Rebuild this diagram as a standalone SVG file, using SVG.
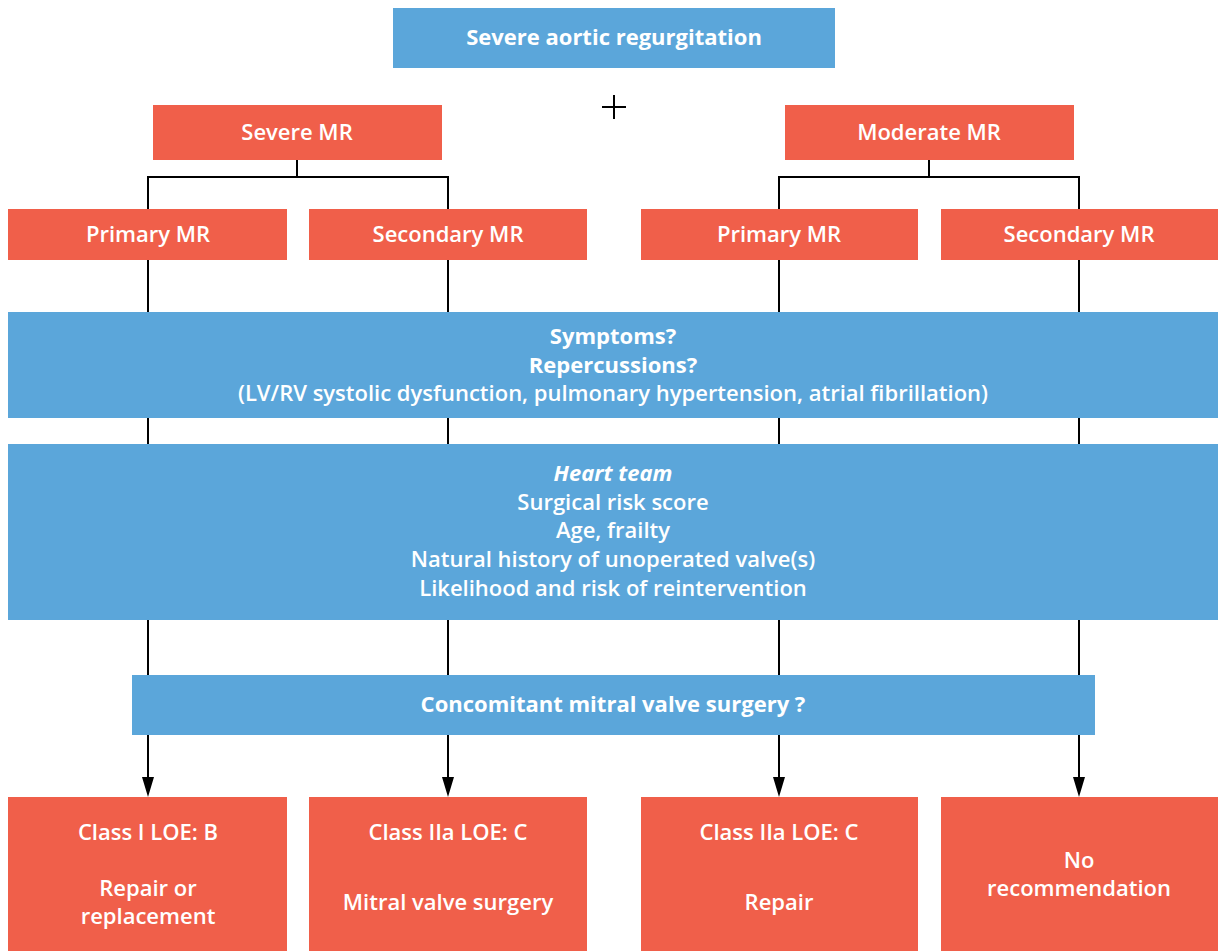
<svg xmlns="http://www.w3.org/2000/svg" width="1218" height="951" viewBox="0 0 1218 951">
<defs>
<style>
.blue{fill:#5BA6DA}
.red{fill:#F05F4A}
.t{font-family:"Open Sans","Liberation Sans",Arial,sans-serif;font-size:22px;font-weight:600;fill:#ffffff;text-anchor:middle}
.b{font-weight:bold}
.ln{stroke:#000;stroke-width:2;fill:none}
</style>
</defs>
<rect width="1218" height="951" fill="#fff"/>
<g id="connectors">
<path class="ln" d="M297,160 V177 M148,177 H448 M148,176 V209 M448,176 V209"/>
<path class="ln" d="M929,160 V177 M779,177 H1079 M779,176 V209 M1079,176 V209"/>
<path class="ln" d="M148,260 V312 M448,260 V312 M779,260 V312 M1079,260 V312"/>
<path class="ln" d="M148,418 V444 M448,418 V444 M779,418 V444 M1079,418 V444"/>
<path class="ln" d="M148,620 V675 M448,620 V675 M779,620 V675 M1079,620 V675"/>
<path class="ln" d="M148,735 V777 M448,735 V777 M779,735 V777 M1079,735 V777"/>
<path d="M142,777 L154,777 L148,797 Z M442,777 L454,777 L448,797 Z M773,777 L785,777 L779,797 Z M1073,777 L1085,777 L1079,797 Z" fill="#000"/>
<path class="ln" d="M602,107 H626 M614,95 V119"/>
</g>
<g id="aortic">
<rect class="blue" x="393" y="8" width="442" height="60"/>
<text class="t b" x="614" y="45">Severe aortic regurgitation</text>
</g>
<g id="severe-mr">
<rect class="red" x="153" y="105" width="289" height="55"/>
<text class="t" x="297" y="140">Severe MR</text>
</g>
<g id="moderate-mr">
<rect class="red" x="785" y="105" width="289" height="55"/>
<text class="t" x="929" y="140">Moderate MR</text>
</g>
<g id="primary-1">
<rect class="red" x="8" y="209" width="279" height="51"/>
<text class="t" x="148" y="242">Primary MR</text>
</g>
<g id="secondary-1">
<rect class="red" x="309" y="209" width="278" height="51"/>
<text class="t" x="448" y="242">Secondary MR</text>
</g>
<g id="primary-2">
<rect class="red" x="641" y="209" width="277" height="51"/>
<text class="t" x="779" y="242">Primary MR</text>
</g>
<g id="secondary-2">
<rect class="red" x="941" y="209" width="277" height="51"/>
<text class="t" x="1079" y="242">Secondary MR</text>
</g>
<g id="symptoms">
<rect class="blue" x="8" y="312" width="1210" height="106"/>
<text class="t b" x="613" y="344">Symptoms?</text>
<text class="t b" x="613" y="373">Repercussions?</text>
<text class="t" x="613" y="401">(LV/RV systolic dysfunction, pulmonary hypertension, atrial fibrillation)</text>
</g>
<g id="heart-team">
<rect class="blue" x="8" y="444" width="1210" height="176"/>
<text class="t b" x="613" y="481" font-style="italic">Heart team</text>
<text class="t" x="613" y="510">Surgical risk score</text>
<text class="t" x="613" y="538">Age, frailty</text>
<text class="t" x="613" y="567">Natural history of unoperated valve(s)</text>
<text class="t" x="613" y="596">Likelihood and risk of reintervention</text>
</g>
<g id="concomitant">
<rect class="blue" x="132" y="675" width="963" height="60"/>
<text class="t b" x="613" y="712">Concomitant mitral valve surgery ?</text>
</g>
<g id="out-1">
<rect class="red" x="8" y="797" width="279" height="154"/>
<text class="t" x="148" y="840">Class I LOE: B</text>
<text class="t" x="148" y="896">Repair or</text>
<text class="t" x="148" y="924">replacement</text>
</g>
<g id="out-2">
<rect class="red" x="309" y="797" width="278" height="154"/>
<text class="t" x="448" y="840">Class IIa LOE: C</text>
<text class="t" x="448" y="910">Mitral valve surgery</text>
</g>
<g id="out-3">
<rect class="red" x="641" y="797" width="277" height="154"/>
<text class="t" x="779" y="840">Class IIa LOE: C</text>
<text class="t" x="779" y="910">Repair</text>
</g>
<g id="out-4">
<rect class="red" x="941" y="797" width="277" height="154"/>
<text class="t" x="1079" y="868">No</text>
<text class="t" x="1079" y="896">recommendation</text>
</g>
</svg>
